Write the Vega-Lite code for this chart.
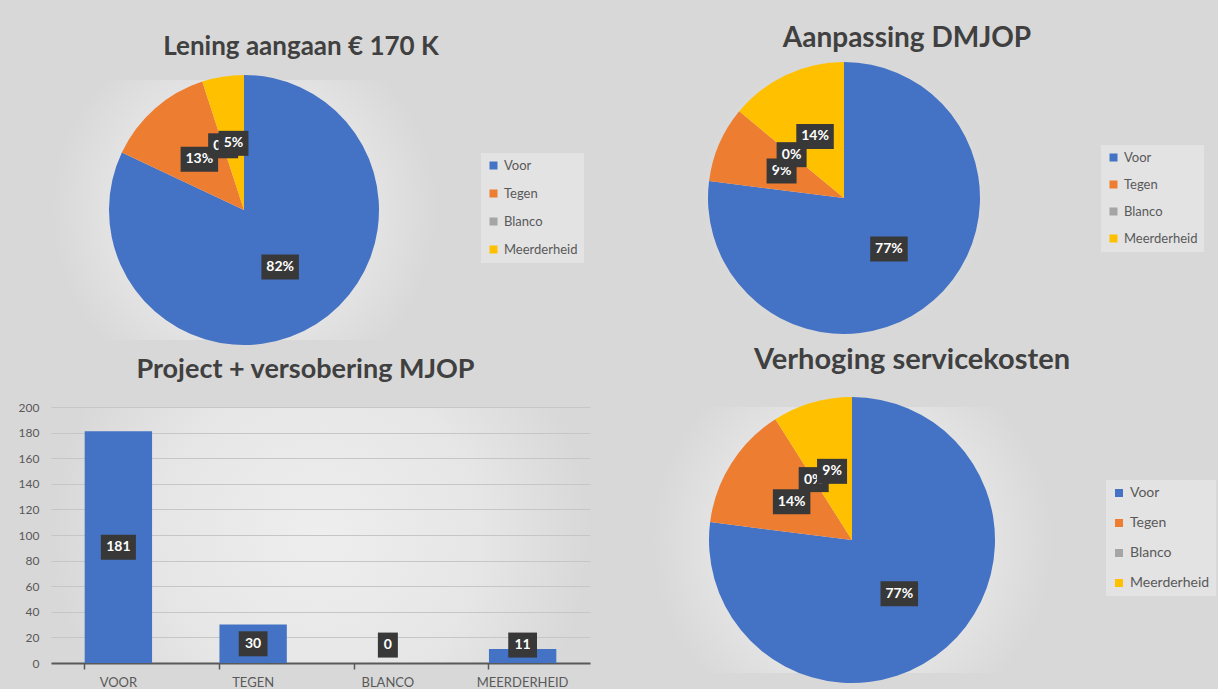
{
  "$schema": "https://vega.github.io/schema/vega-lite/v6.json",
  "padding": {"left": 18, "top": 25, "right": 2, "bottom": 0},
  "background": "#d8d8d8",
  "bounds": "flush",
  "spacing": 327,
  "config": {
    "font": "Lato",
    "view": {
      "stroke": null,
      "fill": {"gradient": "radial", "x1": 0.5, "y1": 0.5, "r1": 0, "x2": 0.5, "y2": 0.5, "r2": 0.5,
        "stops": [{"offset": 0, "color": "#eeeeee"}, {"offset": 0.6, "color": "#e6e6e6"}, {"offset": 1, "color": "#d8d8d8"}]}
    },
    "title": {"color": "#404040", "font": "Lato", "fontWeight": "bold", "anchor": "middle", "frame": "group"},
    "legend": {"labelFont": "Lato", "labelColor": "#595959", "labelFontSize": 13, "symbolType": "square", "symbolSize": 64, "symbolStrokeWidth": 0, "labelOffset": 4, "fillColor": "#e3e3e3", "padding": 6},
    "point": {"filled": true, "opacity": 1, "strokeWidth": 0, "color": "#383838", "size": 625}
  },
  "datasets": {
    "lening": [
      {"cat": "Voor", "i": 1, "pct": 0.82},
      {"cat": "Tegen", "i": 2, "pct": 0.13},
      {"cat": "Blanco", "i": 3, "pct": 0.0},
      {"cat": "Meerderheid", "i": 4, "pct": 0.05}
    ],
    "dmjop": [
      {"cat": "Voor", "i": 1, "pct": 0.77},
      {"cat": "Tegen", "i": 2, "pct": 0.09},
      {"cat": "Blanco", "i": 3, "pct": 0.0},
      {"cat": "Meerderheid", "i": 4, "pct": 0.14}
    ],
    "service": [
      {"cat": "Voor", "i": 1, "pct": 0.77},
      {"cat": "Tegen", "i": 2, "pct": 0.14},
      {"cat": "Blanco", "i": 3, "pct": 0.0},
      {"cat": "Meerderheid", "i": 4, "pct": 0.09}
    ],
    "project": [
      {"cat": "Voor", "n": 181},
      {"cat": "Tegen", "n": 30},
      {"cat": "Blanco", "n": 0},
      {"cat": "Meerderheid", "n": 11}
    ]
  },
  "resolve": {"scale": {"color": "independent", "theta": "independent", "x": "independent", "y": "independent", "shape": "independent"}, "legend": {"color": "independent"}},
  "vconcat": [
    {
      "hconcat": [
        {
          "width": 386, "height": 260,
          "data": {"name": "lening"},
          "title": {"text": "Lening aangaan € 170 K", "dx": 57, "offset": 15, "fontSize": 26},
          "transform": [
            {"stack": "pct", "groupby": [], "sort": [{"field": "i", "order": "ascending"}], "as": ["t0", "t1"]},
            {"calculate": "sin(PI * (datum.t0 + datum.t1))", "as": "px"},
            {"calculate": "cos(PI * (datum.t0 + datum.t1))", "as": "py"},
            {"calculate": "format(datum.pct, '.0%')", "as": "lbl"},
            {"calculate": "length(datum.lbl)", "as": "len"}
          ],
          "encoding": {
            "x": {"field": "px", "type": "quantitative", "scale": {"domain": [-2.8593, 2.8593], "nice": false, "zero": false}, "axis": null},
            "y": {"field": "py", "type": "quantitative", "scale": {"domain": [-1.9259, 1.9259], "nice": false, "zero": false}, "axis": null}
          },
          "layer": [
            {"mark": {"type": "arc", "outerRadius": 135},
             "encoding": {
               "x": null, "y": null,
               "theta": {"field": "t0", "type": "quantitative", "scale": {"domain": [0, 1]}},
               "theta2": {"field": "t1"},
               "color": {"field": "cat", "type": "nominal", "scale": {"domain": ["Voor", "Tegen", "Blanco", "Meerderheid"], "range": ["#4472C4", "#ED7D31", "#A5A5A5", "#FFC000"]},
                 "legend": {"title": null, "orient": "none", "legendX": 430, "legendY": 73, "rowPadding": 14}}
             }},
            {"transform": [{"filter": "datum.i <= 2"}], "mark": {"type": "point"}, "encoding": {"shape": {"field": "len", "type": "ordinal", "scale": {"domain": [1, 2, 3], "range": ["M-0.8,-1H0.8V1H-0.8Z", "M-1.2,-1H1.2V1H-1.2Z", "M-1.5,-1H1.5V1H-1.5Z"]}, "legend": null}}},
            {"transform": [{"filter": "datum.i <= 2"}], "mark": {"type": "text", "fontSize": 14, "fontWeight": "bold", "color": "white"}, "encoding": {"text": {"field": "lbl"}}},
            {"transform": [{"filter": "datum.i == 3"}], "mark": {"type": "point"}, "encoding": {"shape": {"field": "len", "type": "ordinal", "scale": {"domain": [1, 2, 3], "range": ["M-0.8,-1H0.8V1H-0.8Z", "M-1.2,-1H1.2V1H-1.2Z", "M-1.5,-1H1.5V1H-1.5Z"]}, "legend": null}}},
            {"transform": [{"filter": "datum.i == 3"}], "mark": {"type": "text", "fontSize": 14, "fontWeight": "bold", "color": "white"}, "encoding": {"text": {"field": "lbl"}}},
            {"transform": [{"filter": "datum.i == 4"}], "mark": {"type": "point"}, "encoding": {"shape": {"field": "len", "type": "ordinal", "scale": {"domain": [1, 2, 3], "range": ["M-0.8,-1H0.8V1H-0.8Z", "M-1.2,-1H1.2V1H-1.2Z", "M-1.5,-1H1.5V1H-1.5Z"]}, "legend": null}}},
            {"transform": [{"filter": "datum.i == 4"}], "mark": {"type": "text", "fontSize": 14, "fontWeight": "bold", "color": "white"}, "encoding": {"text": {"field": "lbl"}}}
          ]
        },
        {
          "width": 286, "height": 236,
          "data": {"name": "dmjop"},
          "title": {"text": "Aanpassing DMJOP", "dx": 63, "offset": 9, "fontSize": 28},
          "transform": [
            {"stack": "pct", "groupby": [], "sort": [{"field": "i", "order": "ascending"}], "as": ["t0", "t1"]},
            {"calculate": "sin(PI * (datum.t0 + datum.t1))", "as": "px"},
            {"calculate": "cos(PI * (datum.t0 + datum.t1))", "as": "py"},
            {"calculate": "format(datum.pct, '.0%')", "as": "lbl"},
            {"calculate": "length(datum.lbl)", "as": "len"}
          ],
          "encoding": {
            "x": {"field": "px", "type": "quantitative", "scale": {"domain": [-2.1029, 2.1029], "nice": false, "zero": false}, "axis": null},
            "y": {"field": "py", "type": "quantitative", "scale": {"domain": [-1.7353, 1.7353], "nice": false, "zero": false}, "axis": null}
          },
          "layer": [
            {"mark": {"type": "arc", "outerRadius": 136},
             "encoding": {
               "x": null, "y": null,
               "theta": {"field": "t0", "type": "quantitative", "scale": {"domain": [0, 1]}},
               "theta2": {"field": "t1"},
               "color": {"field": "cat", "type": "nominal", "scale": {"domain": ["Voor", "Tegen", "Blanco", "Meerderheid"], "range": ["#4472C4", "#ED7D31", "#A5A5A5", "#FFC000"]},
                 "legend": {"title": null, "orient": "none", "legendX": 400, "legendY": 65, "rowPadding": 13}}
             }},
            {"transform": [{"filter": "datum.i <= 2"}], "mark": {"type": "point"}, "encoding": {"shape": {"field": "len", "type": "ordinal", "scale": {"domain": [1, 2, 3], "range": ["M-0.8,-1H0.8V1H-0.8Z", "M-1.2,-1H1.2V1H-1.2Z", "M-1.5,-1H1.5V1H-1.5Z"]}, "legend": null}}},
            {"transform": [{"filter": "datum.i <= 2"}], "mark": {"type": "text", "fontSize": 14, "fontWeight": "bold", "color": "white"}, "encoding": {"text": {"field": "lbl"}}},
            {"transform": [{"filter": "datum.i == 3"}], "mark": {"type": "point"}, "encoding": {"shape": {"field": "len", "type": "ordinal", "scale": {"domain": [1, 2, 3], "range": ["M-0.8,-1H0.8V1H-0.8Z", "M-1.2,-1H1.2V1H-1.2Z", "M-1.5,-1H1.5V1H-1.5Z"]}, "legend": null}}},
            {"transform": [{"filter": "datum.i == 3"}], "mark": {"type": "text", "fontSize": 14, "fontWeight": "bold", "color": "white"}, "encoding": {"text": {"field": "lbl"}}},
            {"transform": [{"filter": "datum.i == 4"}], "mark": {"type": "point"}, "encoding": {"shape": {"field": "len", "type": "ordinal", "scale": {"domain": [1, 2, 3], "range": ["M-0.8,-1H0.8V1H-0.8Z", "M-1.2,-1H1.2V1H-1.2Z", "M-1.5,-1H1.5V1H-1.5Z"]}, "legend": null}}},
            {"transform": [{"filter": "datum.i == 4"}], "mark": {"type": "text", "fontSize": 14, "fontWeight": "bold", "color": "white"}, "encoding": {"text": {"field": "lbl"}}}
          ]
        }
      ],
      "spacing": 264,
      "bounds": "flush",
      "resolve": {"scale": {"color": "independent", "theta": "independent", "x": "independent", "y": "independent", "shape": "independent"}, "legend": {"color": "independent"}}
    },
    {
      "hconcat": [
        {
          "width": 539, "height": 256,
          "data": {"name": "project"},
          "title": {"text": "Project + versobering MJOP", "dx": -15, "offset": 17, "fontSize": 27},
          "transform": [
            {"calculate": "max(datum.n / 2, 14)", "as": "mid"},
            {"calculate": "'' + datum.n", "as": "lbl"},
            {"calculate": "length(datum.lbl)", "as": "len"}
          ],
          "encoding": {
            "x": {"field": "cat", "type": "nominal", "sort": null,
              "scale": {"paddingInner": 0.5, "paddingOuter": 0.25},
              "axis": {"title": null, "labelAngle": 0, "labelExpr": "upper(datum.label)", "labelColor": "#595959", "labelFontSize": 13, "labelPadding": 7,
                "domainColor": "#595959", "domainWidth": 2, "tickColor": "#595959", "tickSize": 6, "tickWidth": 1.5, "bandPosition": 0, "grid": false}}
          },
          "layer": [
            {"mark": {"type": "bar", "color": "#4472C4"},
             "encoding": {"y": {"field": "n", "type": "quantitative", "scale": {"domain": [0, 200], "nice": false},
               "axis": {"title": null, "values": [0, 20, 40, 60, 80, 100, 120, 140, 160, 180, 200], "labelOverlap": false, "domain": false, "ticks": false, "labelColor": "#595959", "labelFontSize": 12, "labelPadding": 12, "gridColor": "#c6c6c6", "gridWidth": 1}}}},
            {"mark": {"type": "point"},
             "encoding": {"y": {"field": "mid", "type": "quantitative",
               "axis": {"title": null, "values": [0, 20, 40, 60, 80, 100, 120, 140, 160, 180, 200], "labelOverlap": false, "domain": false, "ticks": false, "labelColor": "#595959", "labelFontSize": 12, "labelPadding": 12, "gridColor": "#c6c6c6", "gridWidth": 1}},
               "shape": {"field": "len", "type": "ordinal", "scale": {"domain": [1, 2, 3], "range": ["M-0.8,-1H0.8V1H-0.8Z", "M-1.15,-1H1.15V1H-1.15Z", "M-1.4,-1H1.4V1H-1.4Z"]}, "legend": null}}},
            {"mark": {"type": "text", "fontSize": 14, "fontWeight": "bold", "color": "white"},
             "encoding": {"y": {"field": "mid", "type": "quantitative",
               "axis": {"title": null, "values": [0, 20, 40, 60, 80, 100, 120, 140, 160, 180, 200], "labelOverlap": false, "domain": false, "ticks": false, "labelColor": "#595959", "labelFontSize": 12, "labelPadding": 12, "gridColor": "#c6c6c6", "gridWidth": 1}},
               "text": {"field": "lbl"}}}
          ]
        },
        {
          "width": 402, "height": 266,
          "data": {"name": "service"},
          "title": {"text": "Verhoging servicekosten", "dx": 60, "offset": 22, "fontSize": 29},
          "transform": [
            {"stack": "pct", "groupby": [], "sort": [{"field": "i", "order": "ascending"}], "as": ["t0", "t1"]},
            {"calculate": "sin(PI * (datum.t0 + datum.t1))", "as": "px"},
            {"calculate": "cos(PI * (datum.t0 + datum.t1))", "as": "py"},
            {"calculate": "format(datum.pct, '.0%')", "as": "lbl"},
            {"calculate": "length(datum.lbl)", "as": "len"}
          ],
          "encoding": {
            "x": {"field": "px", "type": "quantitative", "scale": {"domain": [-2.8112, 2.8112], "nice": false, "zero": false}, "axis": null},
            "y": {"field": "py", "type": "quantitative", "scale": {"domain": [-1.8601, 1.8601], "nice": false, "zero": false}, "axis": null}
          },
          "layer": [
            {"mark": {"type": "arc", "outerRadius": 143},
             "encoding": {
               "x": null, "y": null,
               "theta": {"field": "t0", "type": "quantitative", "scale": {"domain": [0, 1]}},
               "theta2": {"field": "t1"},
               "color": {"field": "cat", "type": "nominal", "scale": {"domain": ["Voor", "Tegen", "Blanco", "Meerderheid"], "range": ["#4472C4", "#ED7D31", "#A5A5A5", "#FFC000"]},
                 "legend": {"title": null, "orient": "none", "legendX": 455, "legendY": 73, "rowPadding": 16, "labelFontSize": 14}}
             }},
            {"transform": [{"filter": "datum.i <= 2"}], "mark": {"type": "point"}, "encoding": {"shape": {"field": "len", "type": "ordinal", "scale": {"domain": [1, 2, 3], "range": ["M-0.8,-1H0.8V1H-0.8Z", "M-1.2,-1H1.2V1H-1.2Z", "M-1.5,-1H1.5V1H-1.5Z"]}, "legend": null}}},
            {"transform": [{"filter": "datum.i <= 2"}], "mark": {"type": "text", "fontSize": 14, "fontWeight": "bold", "color": "white"}, "encoding": {"text": {"field": "lbl"}}},
            {"transform": [{"filter": "datum.i == 3"}], "mark": {"type": "point"}, "encoding": {"shape": {"field": "len", "type": "ordinal", "scale": {"domain": [1, 2, 3], "range": ["M-0.8,-1H0.8V1H-0.8Z", "M-1.2,-1H1.2V1H-1.2Z", "M-1.5,-1H1.5V1H-1.5Z"]}, "legend": null}}},
            {"transform": [{"filter": "datum.i == 3"}], "mark": {"type": "text", "fontSize": 14, "fontWeight": "bold", "color": "white"}, "encoding": {"text": {"field": "lbl"}}},
            {"transform": [{"filter": "datum.i == 4"}], "mark": {"type": "point"}, "encoding": {"shape": {"field": "len", "type": "ordinal", "scale": {"domain": [1, 2, 3], "range": ["M-0.8,-1H0.8V1H-0.8Z", "M-1.2,-1H1.2V1H-1.2Z", "M-1.5,-1H1.5V1H-1.5Z"]}, "legend": null}}},
            {"transform": [{"filter": "datum.i == 4"}], "mark": {"type": "text", "fontSize": 14, "fontWeight": "bold", "color": "white"}, "encoding": {"text": {"field": "lbl"}}}
          ]
        }
      ],
      "spacing": 61,
      "bounds": "flush",
      "resolve": {"scale": {"color": "independent", "theta": "independent", "x": "independent", "y": "independent", "shape": "independent"}, "legend": {"color": "independent"}}
    }
  ]
}
